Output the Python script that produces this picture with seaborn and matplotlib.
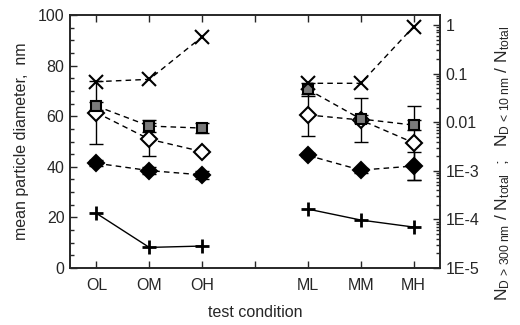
import matplotlib
matplotlib.use("Agg")
import matplotlib.pyplot as plt
import matplotlib.ticker as mticker
import pandas as pd
import seaborn as sns


# --- Data ---
conditions = ["OL", "OM", "OH", "ML", "MM", "MH"]

# left axis: mean particle diameter, nm
d_square = [64.0, 56.1, 55.3, 70.6, 58.9, 56.5]
d_square_err = [1.6, 2.3, 2.0, 2.5, 1.5, 2.0]
d_open = [61.4, 50.9, 46.0, 60.5, 58.5, 49.5]
d_open_err = [12.4, 6.6, 0.0, 8.3, 8.6, 14.7]
d_filled = [41.4, 38.5, 36.8, 44.5, 38.7, 40.3]
d_filled_err = [1.2, 1.5, 1.5, 0.8, 1.0, 5.5]

# right axis: number fractions
frac_small = [0.068, 0.076, 0.57, 0.063, 0.063, 0.92]
frac_large = [1.33e-4, 2.65e-5, 2.83e-5, 1.63e-4, 9.7e-5, 6.95e-5]


def main():
    sns.set_style("ticks")
    plt.rcParams["font.family"] = ["Liberation Sans", "DejaVu Sans"]
    plt.rcParams["mathtext.fontset"] = "custom"
    plt.rcParams["mathtext.rm"] = "Liberation Sans"
    plt.rcParams["mathtext.it"] = "Liberation Sans"

    # two groups of three conditions with one empty slot between them
    xpos = [i + 1 + i // 3 for i in range(len(conditions))]
    df = pd.DataFrame({
        "x": xpos, "cond": conditions,
        "square": d_square, "square_err": d_square_err,
        "open": d_open, "open_err": d_open_err,
        "filled": d_filled, "filled_err": d_filled_err,
        "small": frac_small, "large": frac_large,
    })
    df["group"] = [c[0] for c in conditions]

    fig = plt.figure(figsize=(5.2, 3.25), dpi=100)
    ax = fig.add_axes([70 / 520, 57 / 325, 370 / 520, 253 / 325])
    ax2 = ax.twinx()

    left_series = [
        ("filled", "D", "black", 8.5),
        ("open", "D", "white", 8.5),
        ("square", "s", "#7a7a7a", 7),
    ]
    for g, sub in df.groupby("group"):
        for col, mk, fc, ms in left_series:
            ax.errorbar(sub["x"], sub[col], yerr=sub[col + "_err"], fmt="none",
                        ecolor="black", elinewidth=1, capsize=5, capthick=1,
                        zorder=2)
            sns.lineplot(data=sub, x="x", y=col, ax=ax, color="black",
                         linestyle=(0, (4, 3)), linewidth=1, marker=mk,
                         markersize=ms, markerfacecolor=fc,
                         markeredgecolor="black", markeredgewidth=1.5,
                         zorder=3)
        sns.lineplot(data=sub, x="x", y="small", ax=ax2, color="black",
                     linestyle=(0, (4, 3)), linewidth=1, marker="x",
                     markersize=10, markeredgewidth=1.5,
                     markeredgecolor="black", zorder=3)
        sns.lineplot(data=sub, x="x", y="large", ax=ax2, color="black",
                     linestyle="-", linewidth=1, marker="+",
                     markersize=10, markeredgewidth=2,
                     markeredgecolor="black", zorder=3)

    # --- left axis ---
    ax.set_xlim(0.5, 7.5)
    ax.set_ylim(0, 100)
    ax.set_xticks(range(1, 8))
    labels = []
    for t in range(1, 8):
        labels.append(conditions[xpos.index(t)] if t in xpos else "")
    ax.set_xticklabels(labels)
    ax.yaxis.set_major_locator(mticker.MultipleLocator(20))
    ax.yaxis.set_minor_locator(mticker.MultipleLocator(5))
    ax.tick_params(axis="both", which="major", direction="in", length=5,
                   width=1, labelsize=11.5, top=True, right=False, pad=4)
    ax.tick_params(axis="x", which="major", pad=7)
    ax.tick_params(axis="y", which="minor", direction="in", length=3,
                   width=1, right=False)
    ax.set_ylabel("mean particle diameter,  nm", fontsize=11.5, labelpad=6)
    ax.set_xlabel("test condition", fontsize=11.5, labelpad=9)

    # --- right axis ---
    ax2.set_yscale("log")
    ax2.set_ylim(1e-5, 1.6)
    ax2.yaxis.set_major_locator(mticker.FixedLocator(
        [1e-5, 1e-4, 1e-3, 1e-2, 1e-1, 1]))
    ax2.yaxis.set_major_formatter(mticker.FixedFormatter(
        ["1E-5", "1E-4", "1E-3", "0.01", "0.1", "1"]))
    ax2.yaxis.set_minor_locator(mticker.LogLocator(
        base=10, subs=range(2, 10), numticks=20))
    ax2.yaxis.set_minor_formatter(mticker.NullFormatter())
    ax2.tick_params(axis="y", which="major", direction="in", length=5,
                    width=1, labelsize=11.5, pad=4)
    ax2.tick_params(axis="y", which="minor", direction="in", length=3,
                    width=1)
    ax2.set_ylabel(
        r"$\mathregular{N_{D\,>\,300\;nm}\ /\ N_{total}\ \ ;\ \ "
        r"N_{D\,<\,10\;nm}\ /\ N_{total}}$",
        fontsize=12.5)
    ax2.yaxis.set_label_coords(1.145, 0.415)

    for a in (ax, ax2):
        for s in a.spines.values():
            s.set_linewidth(1.2)
            s.set_visible(True)
    ax2.set_xlabel("")

    fig.savefig("out.png", dpi=100)


if __name__ == "__main__":
    main()
